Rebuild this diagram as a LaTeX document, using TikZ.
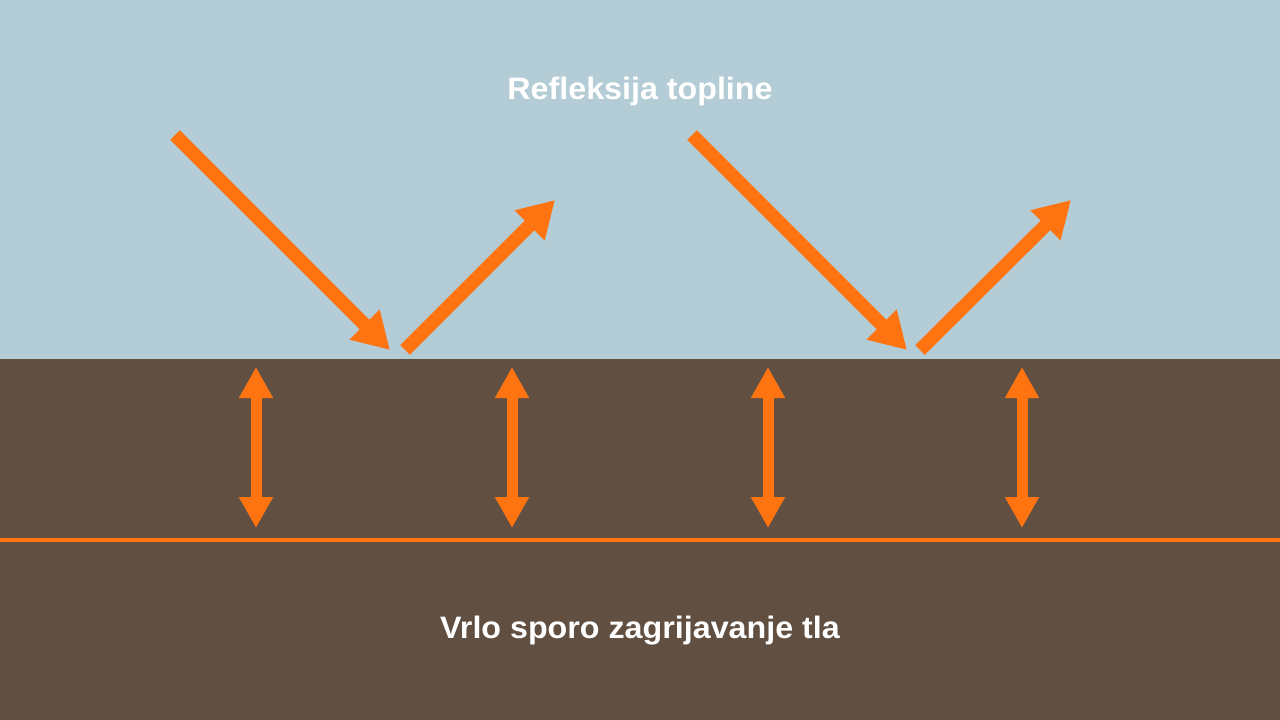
\documentclass[tikz,border=0pt]{standalone}
\usepackage{fontspec}
\setmainfont{Liberation Sans}[FakeStretch=1.04]
\usetikzlibrary{arrows.meta}

\definecolor{sky}{HTML}{B4CCD5}
\definecolor{soil}{HTML}{614F41}
\definecolor{heat}{HTML}{FF7311}

\tikzset{
	ray/.style={draw=heat,line width=13.5pt,-{Triangle[length=36pt,width=40pt]}},
	flux/.style={draw=heat,line width=11pt,{Triangle[length=31pt,width=32pt]}-{Triangle[length=31pt,width=32pt]}},
	caption/.style={text=white,font=\fontsize{31}{37}\selectfont\bfseries}
}

\begin{document}
\begin{tikzpicture}[x=1pt,y=-1pt]
	\fill[sky] (0,0) rectangle (1280,359);
	\fill[soil] (0,359) rectangle (1280,720);
	\useasboundingbox (0,0) rectangle (1280,720);

	\coordinate (G1) at (0,540);
	\coordinate (G2) at (1280,540);
	\draw[heat,line width=4pt] (G1) -- (G2);

	\node[caption] (T1) at (640,91) {Refleksija topline};
	\node[caption] (T2) at (640,631) {Vrlo sporo zagrijavanje tla};

	\coordinate (A1) at (175,135);
	\coordinate (B1) at (390,350);
	\coordinate (C1) at (405,350);
	\coordinate (D1) at (555,200);
	\coordinate (A2) at (692,135);
	\coordinate (B2) at (907,350);
	\coordinate (C2) at (920,350);
	\coordinate (D2) at (1071,200);

	\draw[ray] (A1) -- (B1);
	\draw[ray] (C1) -- (D1);
	\draw[ray] (A2) -- (B2);
	\draw[ray] (C2) -- (D2);

	\coordinate (U1) at (256,367);
	\coordinate (L1) at (256,528);
	\coordinate (U2) at (512,367);
	\coordinate (L2) at (512,528);
	\coordinate (U3) at (768,367);
	\coordinate (L3) at (768,528);
	\coordinate (U4) at (1022,367);
	\coordinate (L4) at (1022,528);

	\draw[flux] (U1) -- (L1);
	\draw[flux] (U2) -- (L2);
	\draw[flux] (U3) -- (L3);
	\draw[flux] (U4) -- (L4);
\end{tikzpicture}
\end{document}
